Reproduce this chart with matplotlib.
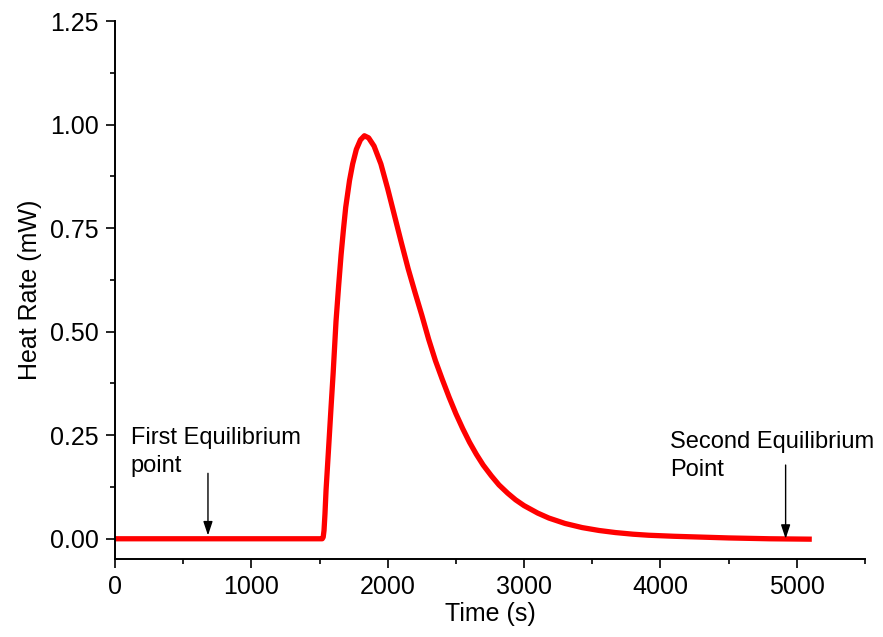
import matplotlib
matplotlib.use("Agg")
import matplotlib.pyplot as plt
from matplotlib.ticker import MultipleLocator, FormatStrFormatter

# heat rate trace (time in s, heat rate in mW)
time_s = [0, 500, 1000, 1520, 1527, 1533, 1540, 1548, 1565, 1585, 1600, 1621,
          1640, 1658, 1675, 1692, 1720, 1743, 1770, 1800, 1829, 1860, 1900,
          1950, 2000, 2050, 2100, 2150, 2200, 2250, 2300, 2350, 2400, 2450,
          2500, 2550, 2600, 2650, 2700, 2760, 2816, 2880, 2938, 3000, 3100,
          3182, 3300, 3426, 3550, 3670, 3800, 3914, 4100, 4300, 4500, 4800, 5110]
heat_mw = [0, 0, 0, 0, 0.004, 0.02, 0.06, 0.118, 0.21, 0.32, 0.40, 0.525,
           0.61, 0.685, 0.745, 0.80, 0.865, 0.905, 0.94, 0.963, 0.973, 0.968, 0.948,
           0.905, 0.845, 0.78, 0.715, 0.652, 0.595, 0.54, 0.482, 0.43, 0.385, 0.342,
           0.302, 0.266, 0.233, 0.204, 0.178, 0.152, 0.13, 0.11, 0.094, 0.08, 0.062,
           0.05, 0.037, 0.027, 0.02, 0.015, 0.011, 0.0085, 0.006, 0.004, 0.002, 0.0, -0.001]

plt.rcParams['font.family'] = ['Liberation Sans', 'DejaVu Sans']

fig = plt.figure(figsize=(8.83, 6.37), dpi=100)
ax = fig.add_axes([0.1302, 0.1217, 0.8494, 0.8453])

ax.plot(time_s, heat_mw, color='#ff0000', lw=3.8,
        solid_joinstyle='round', solid_capstyle='butt')

ax.set_xlim(0, 5500)
ax.set_ylim(-0.05, 1.25)
ax.xaxis.set_major_locator(MultipleLocator(1000))
ax.xaxis.set_minor_locator(MultipleLocator(500))
ax.yaxis.set_major_locator(MultipleLocator(0.25))
ax.yaxis.set_minor_locator(MultipleLocator(0.125))
ax.yaxis.set_major_formatter(FormatStrFormatter('%.2f'))

for side in ('top', 'right'):
    ax.spines[side].set_visible(False)
for side in ('left', 'bottom'):
    ax.spines[side].set_linewidth(1.4)

ax.tick_params(which='major', direction='out', length=6.5, width=1.2,
               labelsize=18, pad=5)
ax.tick_params(which='minor', direction='out', length=3.5, width=1.2)

ax.set_xlabel('Time (s)', fontsize=18, labelpad=2)
ax.set_ylabel('Heat Rate (mW)', fontsize=18, labelpad=6)

arrow = dict(arrowstyle='-|>,head_length=0.6,head_width=0.2', color='black',
             lw=1, mutation_scale=14, shrinkA=0, shrinkB=0)
ax.annotate('', xy=(682, 0.008), xytext=(682, 0.158), arrowprops=arrow)
ax.annotate('', xy=(4918, 0.0), xytext=(4918, 0.178), arrowprops=arrow)

ax.text(114, 0.27, 'First Equilibrium\npoint', fontsize=17, va='top',
        ha='left', linespacing=1.35)
ax.text(4072, 0.26, 'Second Equilibrium\nPoint', fontsize=17, va='top',
        ha='left', linespacing=1.35)

fig.savefig('out.png', dpi=100, facecolor='white')
